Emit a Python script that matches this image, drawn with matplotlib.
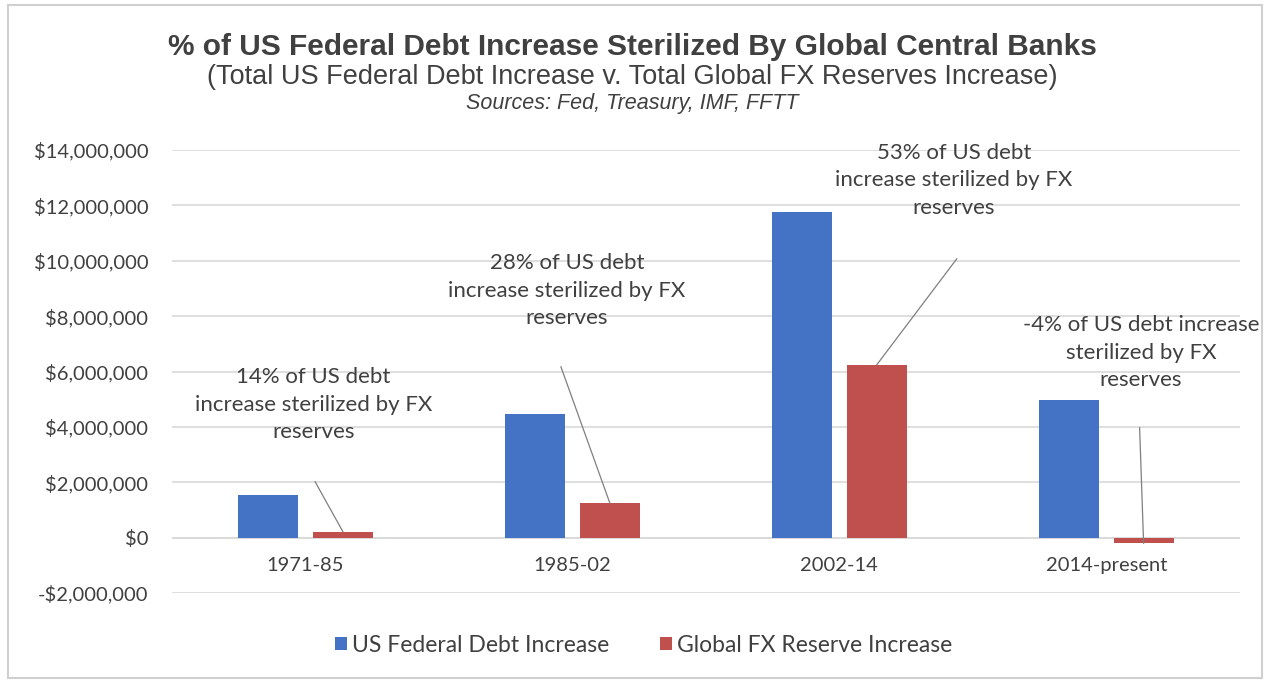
import matplotlib
matplotlib.use("Agg")
import matplotlib.pyplot as plt
from matplotlib.patches import Rectangle
from matplotlib.ticker import FuncFormatter
import numpy as np

# Data (US dollars)
periods = ["1971-85", "1985-02", "2002-14", "2014-present"]
debt_increase = [1550000, 4480000, 11770000, 4980000]
fx_increase = [217000, 1255000, 6240000, -200000]
pct_sterilized = [14, 28, 53, -4]
series_names = ["US Federal Debt Increase", "Global FX Reserve Increase"]

BLUE = "#4472C4"
RED = "#C0504D"
TEXT = "#404040"
BODY_FONT = ["Lato", "DejaVu Sans"]
TITLE_FONT = ["Liberation Sans", "DejaVu Sans"]

fig = plt.figure(figsize=(12.65, 6.81), dpi=100)
fig.patch.set_facecolor("white")

# light frame around the chart area
fig.patches.append(Rectangle((8 / 1265, 3 / 681), 1254 / 1265, 673 / 681,
                             transform=fig.transFigure, fill=False,
                             edgecolor="#D0D0D0", linewidth=1.5))

ax = fig.add_axes([0.136, 0.1292, 0.844, 0.6505])
x = np.arange(len(periods))
w = 0.225
off = 0.14
ax.bar(x - off, debt_increase, width=w, color=BLUE, label=series_names[0], zorder=3)
ax.bar(x + off, fx_increase, width=w, color=RED, label=series_names[1], zorder=3)

ax.set_xlim(-0.5, len(periods) - 0.5)
ax.set_ylim(-2000000, 14000000)
ax.set_yticks(np.arange(-2000000, 14000001, 2000000))
ax.yaxis.set_major_formatter(FuncFormatter(
    lambda v, p: ("-$" if v < 0 else "$") + f"{abs(int(v)):,}"))
ax.set_xticks(x)
ax.set_xticklabels(periods)
ax.grid(axis="y", color="#D9D9D9", linewidth=1.2, zorder=0)
ax.axhline(0, color="#D9D9D9", linewidth=1.2, zorder=1)
# category labels sit next to the zero line
ax.spines["bottom"].set_position(("data", 0))
for s in ax.spines.values():
    s.set_visible(False)
ax.tick_params(axis="both", length=0, labelsize=14.5, labelcolor=TEXT)
ax.tick_params(axis="y", pad=17)
ax.tick_params(axis="x", pad=14)
for lab in ax.get_xticklabels() + ax.get_yticklabels():
    lab.set_family(BODY_FONT)

# callouts: text centre and leader-line start (data coords) for each period
label_pos = [(0.03, 4.8e6), (0.98, 8.92e6), (2.43, 12.9e6), (3.13, 6.68e6)]
line_start = [(0.036, 2.02e6), (0.957, 6.17e6), (2.44, 10.07e6), (3.125, 3.97e6)]
for i, pct in enumerate(pct_sterilized):
    if i == 3:
        txt = f"{pct}% of US debt increase\nsterilized by FX\nreserves"
    else:
        txt = f"{pct}% of US debt\nincrease sterilized by FX\nreserves"
    tx, ty = label_pos[i]
    ax.text(tx, ty, txt, ha="center", va="center", fontsize=16,
            color=TEXT, family=BODY_FONT, linespacing=1.48, zorder=4)
    sx, sy = line_start[i]
    ax.plot([sx, x[i] + off], [sy, fx_increase[i]], color="#7F7F7F",
            linewidth=0.9, zorder=4)

fig.text(0.5, 1 - 47 / 681, "% of US Federal Debt Increase Sterilized By Global Central Banks",
         ha="center", va="center", fontsize=21.5, fontweight="bold",
         color=TEXT, family=TITLE_FONT)
fig.text(0.5, 1 - 77 / 681, "(Total US Federal Debt Increase v. Total Global FX Reserves Increase)",
         ha="center", va="center", fontsize=19.5, color=TEXT, family=TITLE_FONT)
fig.text(0.5, 1 - 104 / 681, "Sources: Fed, Treasury, IMF, FFTT",
         ha="center", va="center", fontsize=15.5, style="italic",
         color=TEXT, family=TITLE_FONT)

leg = fig.legend(loc="center", bbox_to_anchor=(0.509, 1 - 645 / 681), ncol=2,
                 frameon=False, handlelength=0.5, handleheight=0.5,
                 handletextpad=0.25, columnspacing=2.2,
                 prop={"family": BODY_FONT, "size": 16.5})
for t in leg.get_texts():
    t.set_color(TEXT)

fig.savefig("out.png", dpi=100, facecolor="white")
